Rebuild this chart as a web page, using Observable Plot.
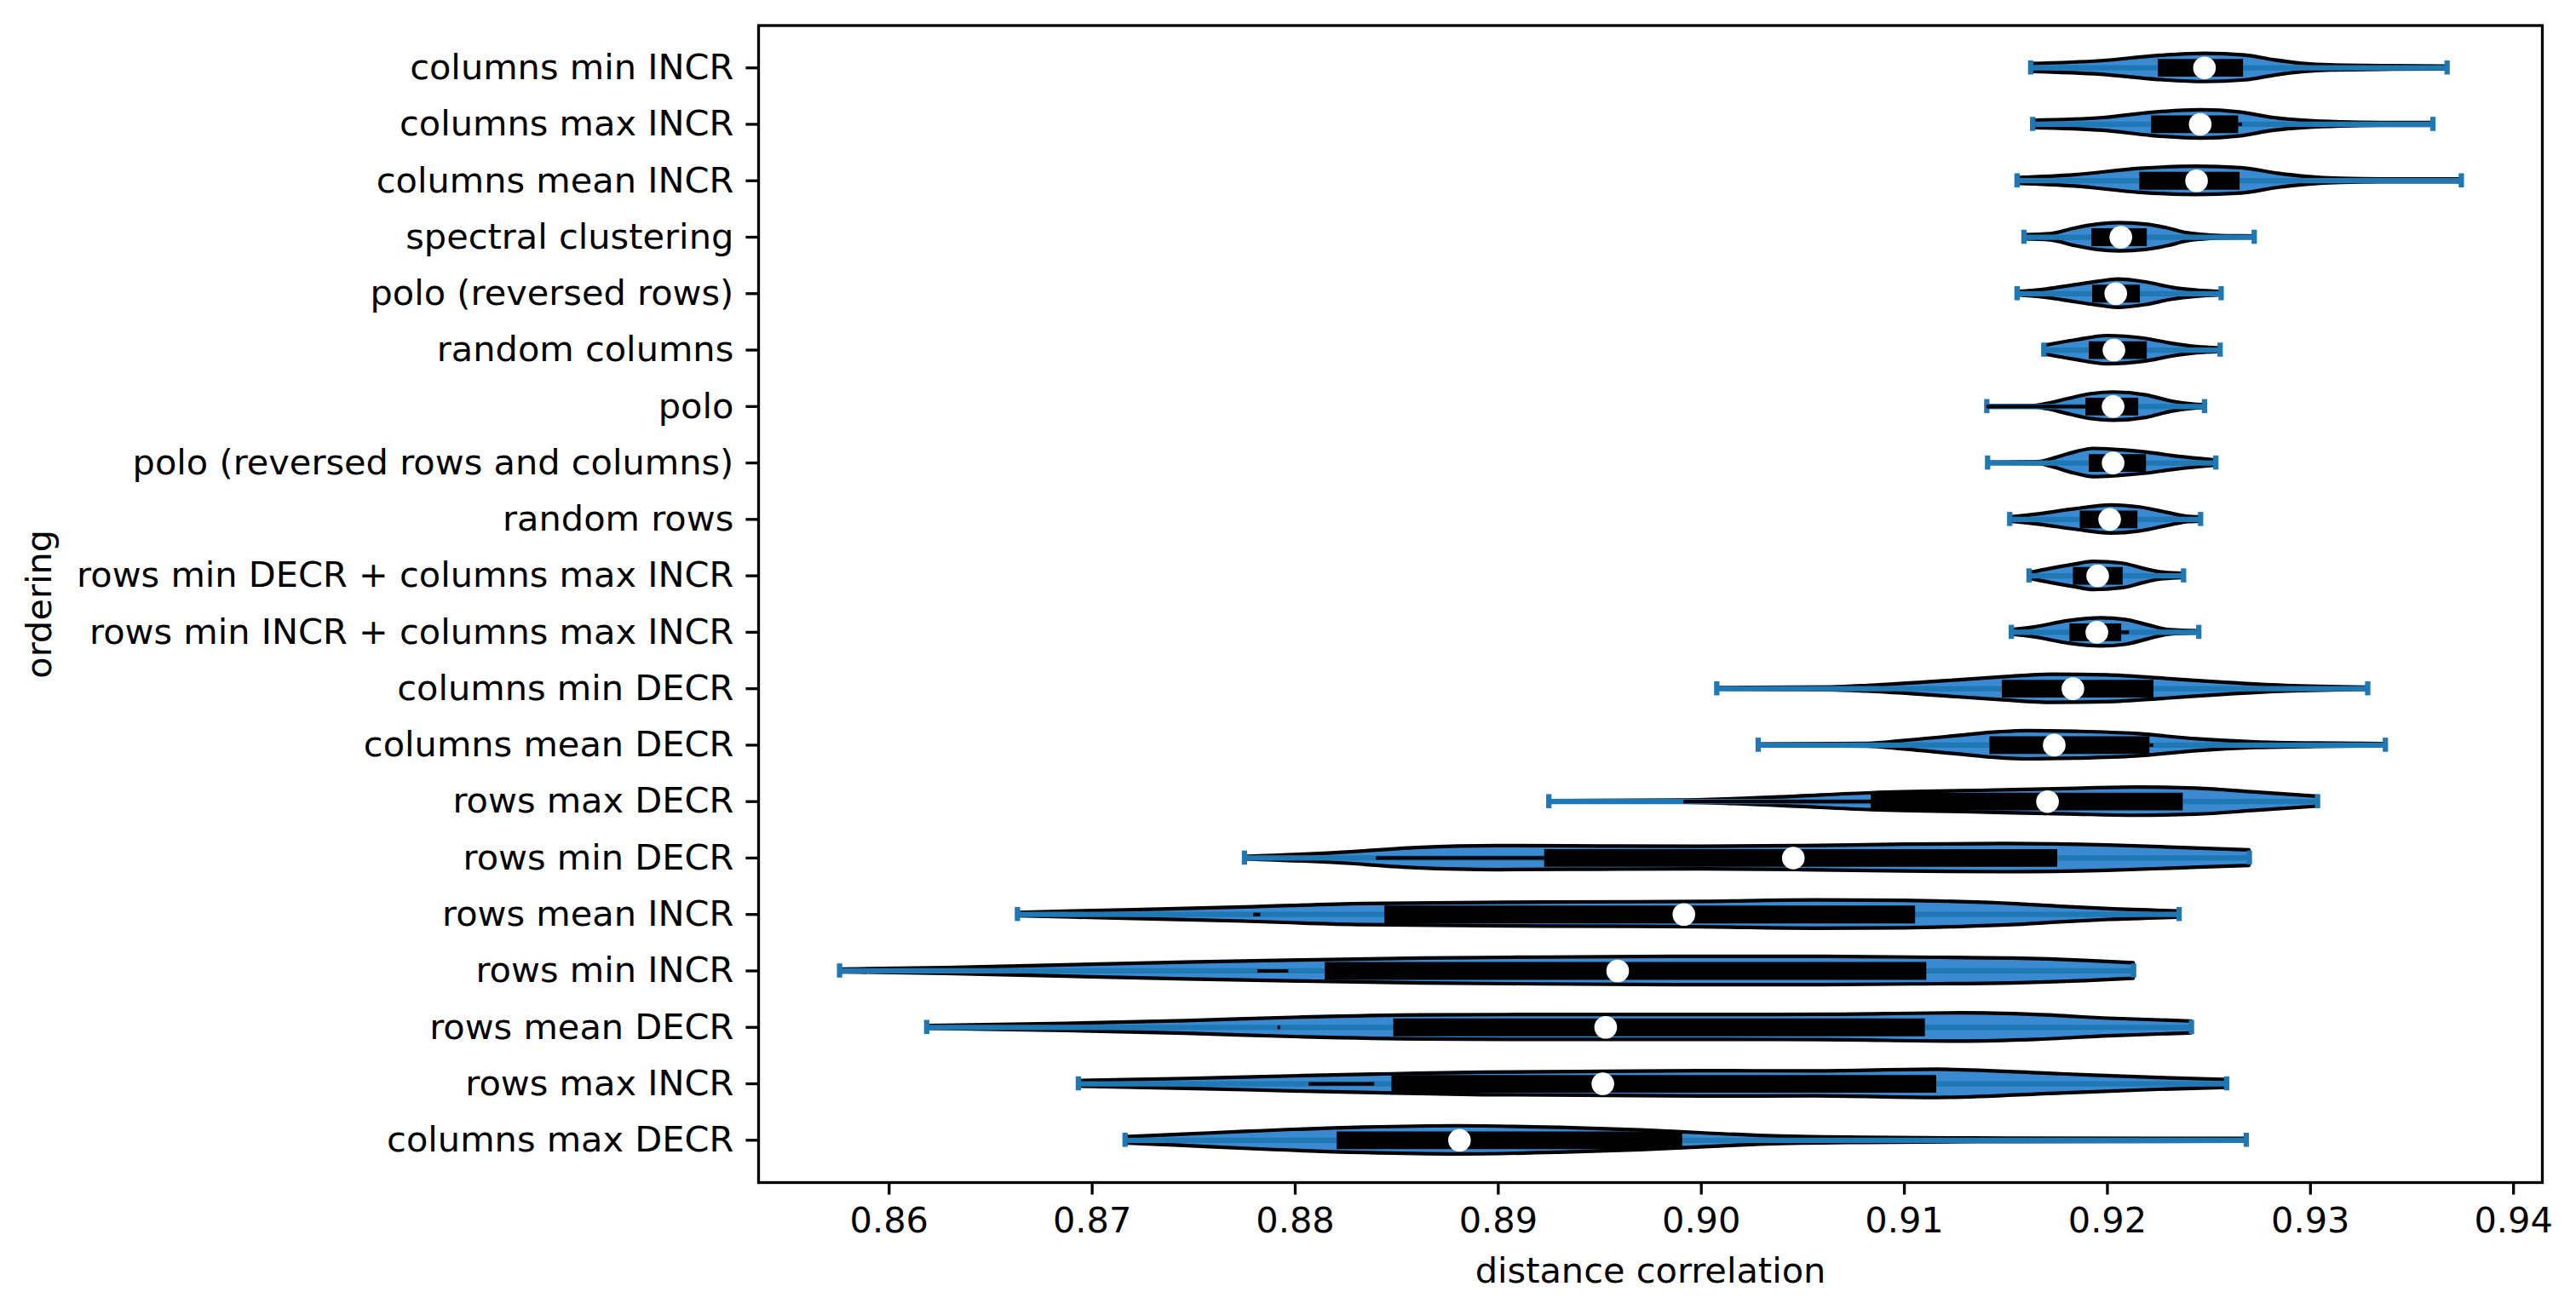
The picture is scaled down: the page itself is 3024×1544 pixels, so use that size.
<!DOCTYPE html>
<html>
<head>
<meta charset="utf-8">
<script src="https://cdn.jsdelivr.net/npm/d3@7"></script>
<script src="https://cdn.jsdelivr.net/npm/@observablehq/plot@0.6"></script>
<style>
  html, body { margin: 0; padding: 0; background: white; }
  #chart svg { display: block; }
</style>
</head>
<body>
<div id="chart"></div>
<script>
// Categories, top to bottom
const categories = [
  "columns min INCR", "columns max INCR", "columns mean INCR", "spectral clustering",
  "polo (reversed rows)", "random columns", "polo", "polo (reversed rows and columns)",
  "random rows", "rows min DECR + columns max INCR", "rows min INCR + columns max INCR",
  "columns min DECR", "columns mean DECR", "rows max DECR", "rows min DECR",
  "rows mean INCR", "rows min INCR", "rows mean DECR", "rows max INCR", "columns max DECR"
];
// Extrema, quartiles and medians (distance correlation)
const mins    = [.91622,.91632,.91555,.91589,.91555,.91687,.91406,.91410,.91519,.91614,.91527,.90076,.90280,.89249,.87750,.86632,.85756,.86185,.86932,.87162];
const maxs    = [.93673,.93603,.93743,.92723,.92560,.92555,.92478,.92534,.92459,.92375,.92450,.93282,.93369,.93035,.92699,.92353,.92129,.92414,.92587,.92684];
const q1s     = [.92250,.92217,.92159,.91923,.91927,.91910,.91894,.91910,.91866,.91832,.91815,.91482,.91421,.90836,.89228,.88441,.88147,.88485,.88476,.88206];
const medians = [.92478,.92457,.92439,.92066,.92041,.92032,.92028,.92028,.92011,.91952,.91948,.91830,.91738,.91705,.90453,.89914,.89588,.89529,.89515,.88809];
const q3s     = [.92670,.92646,.92653,.92196,.92162,.92196,.92154,.92192,.92150,.92077,.92070,.92229,.92209,.92373,.91755,.91055,.91110,.91103,.91159,.89908];
// Visible whisker pieces: category index, low, high
const whiskerCat  = [1, 6, 10, 12, 13, 14, 15, 16, 17, 18];
const whiskerLow  = [.92646, .91406, .92070, .92209, .89914, .88400, .87795, .87815, .87915, .88068];
const whiskerHigh = [.92665, .91894, .92108, .92228, .90836, .89228, .87830, .87968, .87928, .88391];
// Violin outlines: [value, relative density] per category
const densities = [
  [[.91622,.28],[.9197,.48],[.9225,.85],[.9248,1],[.9268,.88],[.9282,.55],[.9296,.3],[.9310,.18],[.9340,.12],[.93673,.1]],
  [[.91632,.26],[.9198,.45],[.9222,.82],[.9246,1],[.9265,.85],[.9282,.45],[.9298,.25],[.9315,.15],[.9340,.1],[.93603,.1]],
  [[.91555,.2],[.9184,.4],[.9216,.85],[.9244,1],[.9266,.9],[.9284,.5],[.9298,.28],[.9315,.15],[.9345,.1],[.93743,.1]],
  [[.91589,.15],[.9172,.22],[.9184,.62],[.9195,.9],[.9206,1],[.9219,.9],[.9230,.62],[.9239,.3],[.9251,.12],[.9262,.07],[.92723,.06]],
  [[.91555,.12],[.9170,.3],[.9184,.6],[.9196,.85],[.9205,1],[.9219,.8],[.9232,.42],[.9244,.22],[.92560,.12]],
  [[.91687,.3],[.9184,.68],[.9200,1],[.9218,.82],[.9232,.45],[.9244,.22],[.92555,.12]],
  [[.91406,.03],[.9164,.05],[.9170,.18],[.9181,.55],[.9192,.88],[.9203,1],[.9219,.8],[.9232,.35],[.9242,.15],[.92478,.1]],
  [[.91410,.03],[.9167,.08],[.9172,.25],[.9184,.75],[.9193,1],[.9205,.92],[.9219,.75],[.9232,.5],[.9246,.28],[.92534,.18]],
  [[.91519,.15],[.9167,.38],[.9184,.72],[.9202,1],[.9216,.85],[.9230,.45],[.9239,.2],[.92459,.15]],
  [[.91614,.2],[.9172,.5],[.9184,.8],[.9193,1],[.9207,.88],[.9218,.5],[.9225,.28],[.92375,.15]],
  [[.91527,.15],[.9164,.35],[.9181,.8],[.9197,1],[.9209,.88],[.9220,.5],[.9231,.15],[.92450,.08]],
  [[.90076,.05],[.9064,.1],[.9082,.2],[.9111,.45],[.9147,.8],[.9173,1],[.9200,.95],[.9229,.7],[.9258,.42],[.9288,.2],[.93282,.08]],
  [[.90280,.05],[.9082,.1],[.9100,.3],[.9126,.65],[.9147,.92],[.9160,1],[.9185,.95],[.9214,.8],[.9244,.42],[.9273,.2],[.9303,.12],[.93369,.08]],
  [[.89249,.04],[.8991,.08],[.9038,.3],[.9084,.6],[.9141,.78],[.9180,.9],[.9214,1],[.9244,.92],[.9273,.65],[.93035,.35]],
  [[.87750,.08],[.8820,.35],[.8860,.72],[.8900,.85],[.8950,.82],[.9000,.8],[.9050,.85],[.9100,.95],[.9150,1],[.9200,.9],[.9240,.7],[.92699,.55]],
  [[.86632,.12],[.8716,.3],[.8775,.5],[.8834,.75],[.8922,.85],[.9000,.9],[.9056,1],[.9100,.97],[.9128,.88],[.9153,.75],[.9177,.55],[.9201,.38],[.92353,.22]],
  [[.85756,.1],[.8628,.2],[.8687,.4],[.8746,.6],[.8804,.75],[.8863,.88],[.8922,.95],[.8998,1],[.9060,1],[.9104,.95],[.9153,.88],[.9189,.72],[.92129,.55]],
  [[.86185,.1],[.8687,.25],[.8746,.45],[.8804,.7],[.8863,.85],[.8922,.88],[.9000,.88],[.9060,.9],[.9128,1],[.9165,.88],[.9201,.62],[.92414,.42]],
  [[.86932,.2],[.8746,.35],[.8804,.55],[.8848,.68],[.8893,.8],[.8952,.85],[.9000,.9],[.9056,.88],[.9116,1],[.9177,.68],[.9225,.42],[.92587,.28]],
  [[.87162,.22],[.8745,.4],[.8775,.6],[.8834,.9],[.8880,1],[.8930,.88],[.8970,.7],[.9000,.5],[.9032,.3],[.9080,.18],[.9150,.12],[.92684,.1]]
];
const xTicks = [0.86, 0.87, 0.88, 0.89, 0.90, 0.91, 0.92, 0.93, 0.94];

const n = categories.length;
const pos = i => n - i; // matplotlib-style positions: bottom = 1
const stats = categories.map((c, i) => ({
  cat: c, pos: pos(i), min: mins[i], max: maxs[i], q1: q1s[i], med: medians[i], q3: q3s[i]
}));
const outline = densities.flatMap((pts, i) => pts.map(([v, d]) => ({cat: categories[i], pos: pos(i), v, d})));
const whiskers = whiskerCat.map((ci, k) => ({pos: pos(ci), lo: whiskerLow[k], hi: whiskerHigh[k]}));

const HALF = 0.25; // half of violin width (widths = 0.5)
const CAP = 0.125;

const chart = Plot.plot({
  width: 3024,
  height: 1544,
  marginLeft: 890,
  marginRight: 40,
  marginTop: 29.5,
  marginBottom: 156,
  style: "font-family: 'DejaVu Sans', sans-serif; font-size: 41.5px; background: white; overflow: visible;",
  x: {domain: [0.85357, 0.94142]},
  y: {domain: [0.25, 20.75]},
  marks: [
    Plot.areaY(outline, {
      x: "v",
      y1: d => d.pos - HALF * d.d,
      y2: d => d.pos + HALF * d.d,
      z: "cat",
      fill: "#3a8ad2",
      stroke: "black",
      strokeWidth: 4.2,
      curve: "monotone-x"
    }),
    Plot.ruleY(stats, {y: "pos", x1: "min", x2: "max", stroke: "#1f77b4", strokeWidth: 6.25}),
    Plot.ruleX(stats, {x: "min", y1: d => d.pos - CAP, y2: d => d.pos + CAP, stroke: "#1f77b4", strokeWidth: 6.25}),
    Plot.ruleX(stats, {x: "max", y1: d => d.pos - CAP, y2: d => d.pos + CAP, stroke: "#1f77b4", strokeWidth: 6.25}),
    Plot.ruleY(whiskers, {y: "pos", x1: "lo", x2: "hi", stroke: "black", strokeWidth: 4.2}),
    Plot.ruleY(stats, {y: "pos", x1: "q1", x2: "q3", stroke: "black", strokeWidth: 20.8}),
    Plot.dot(stats, {x: "med", y: "pos", r: 13.3, fill: "white", stroke: null}),
    Plot.frame({stroke: "black", strokeWidth: 3.3}),
    Plot.axisX({ticks: xTicks, tickFormat: d3.format(".2f"), tickSize: 14.6, tickPadding: 14.6, strokeWidth: 3.3, label: null}),
    Plot.axisY({ticks: d3.range(1, n + 1), tickFormat: p => categories[n - p], tickSize: 14.6, tickPadding: 14.6, strokeWidth: 3.3, label: null}),
    Plot.text(["distance correlation"], {frameAnchor: "bottom", dy: 104, lineAnchor: "middle", fontSize: 41.5}),
    Plot.text(["ordering"], {frameAnchor: "left", dx: -844, rotate: -90, textAnchor: "middle", lineAnchor: "middle", fontSize: 41.5})
  ]
});
document.getElementById("chart").appendChild(chart);
</script>
</body>
</html>
